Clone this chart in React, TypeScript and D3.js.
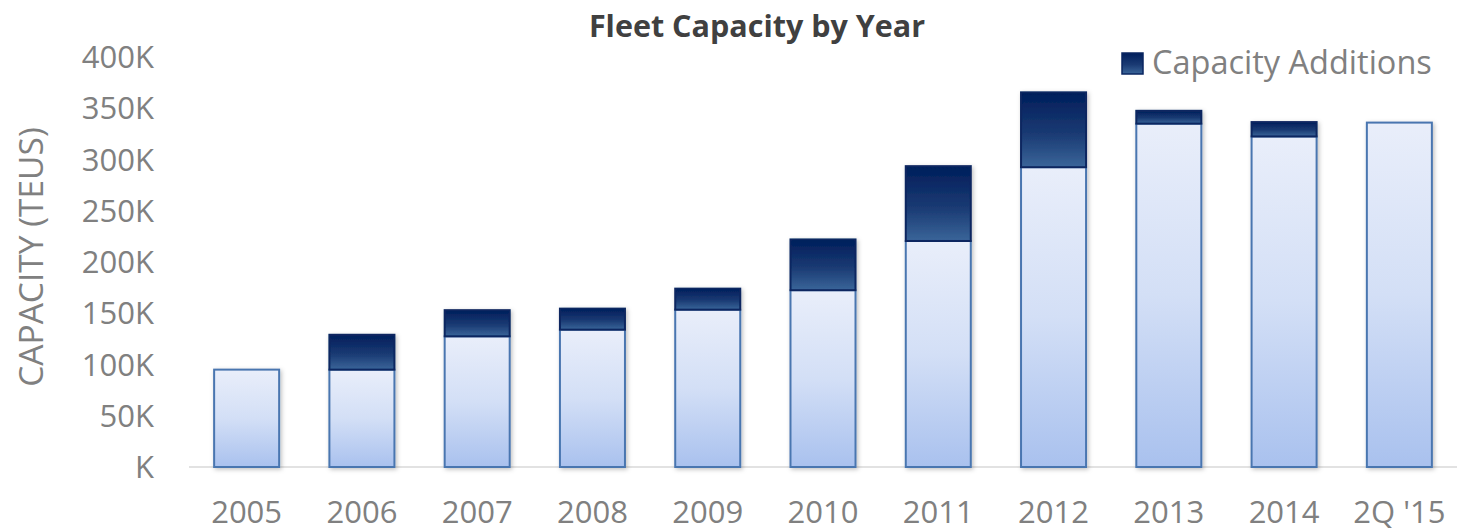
import React from 'react';
import * as d3 from 'd3';

// values in thousands of TEUs
const years = ['2005', '2006', '2007', '2008', '2009', '2010', '2011', '2012', '2013', '2014', "2Q '15"];
const baseCapacity = [95, 95, 127.5, 134, 153.5, 172.5, 220.5, 292.5, 335, 322.5, 336];
const capacityAdditions = [0, 34, 25.5, 20.5, 20.5, 49.5, 73, 73, 12.5, 14, 0];
const yTicks = [0, 50, 100, 150, 200, 250, 300, 350, 400];

const W = 1462;
const H = 532;
const font = '"Open Sans", sans-serif';

const App: React.FC = () => {
  const x = d3.scaleBand<string>()
    .domain(years)
    .range([189, 1457])
    .paddingInner(0.436)
    .paddingOuter(0.218);

  const y = d3.scaleLinear().domain([0, 400]).range([467, 57]);

  const rows = years.map((yr, i) => ({ yr, base: baseCapacity[i], add: capacityAdditions[i] }));

  return (
    <svg width={W} height={H} style={{ position: 'absolute', left: 0, top: 0 }} fontFamily={font}>
      <defs>
        <linearGradient id="lightFill" x1="0" y1="0" x2="0" y2="1">
          <stop offset="0%" stopColor="#e9eefa" />
          <stop offset="50%" stopColor="#d3dff6" />
          <stop offset="100%" stopColor="#a9c1ee" />
        </linearGradient>
        <linearGradient id="darkFill" x1="0" y1="0" x2="0" y2="1">
          <stop offset="0%" stopColor="#001e5b" />
          <stop offset="55%" stopColor="#1a3a73" />
          <stop offset="100%" stopColor="#3a6599" />
        </linearGradient>
        <filter id="shadow" x="-20%" y="-20%" width="140%" height="140%">
          <feDropShadow dx="1.5" dy="1.5" stdDeviation="2" floodColor="#000" floodOpacity="0.25" />
        </filter>
      </defs>

      <text x={757} y={37} textAnchor="middle" fontSize={30.5} fontWeight="bold" fill="#404040">
        Fleet Capacity by Year
      </text>

      <text
        transform={`translate(43,${257}) rotate(-90)`}
        textAnchor="middle"
        fontSize={33.5}
        fill="#808080"
      >
        CAPACITY (TEUS)
      </text>

      {yTicks.map((t) => (
        <text key={t} x={154} y={y(t)} dy="0.36em" textAnchor="end" fontSize={31} fill="#808080">
          {t === 0 ? 'K' : `${t}K`}
        </text>
      ))}

      <line x1={189} x2={1457} y1={y(0)} y2={y(0)} stroke="#d9d9d9" strokeWidth={1.5} />

      {rows.map((d) => (
        <g key={d.yr} filter="url(#shadow)">
          <rect
            x={x(d.yr)}
            y={y(d.base)}
            width={x.bandwidth()}
            height={y(0) - y(d.base)}
            fill="url(#lightFill)"
            stroke="#4a76b0"
            strokeWidth={2}
          />
          {d.add > 0 && (
            <rect
              x={x(d.yr)}
              y={y(d.base + d.add)}
              width={x.bandwidth()}
              height={y(d.base) - y(d.base + d.add)}
              fill="url(#darkFill)"
              stroke="#0a2660"
              strokeWidth={2}
            />
          )}
        </g>
      ))}

      {years.map((yr) => (
        <text key={yr} x={(x(yr) ?? 0) + x.bandwidth() / 2} y={523} textAnchor="middle" fontSize={31} fill="#808080">
          {yr}
        </text>
      ))}

      <g>
        <rect x={1122} y={53} width={21} height={21} fill="url(#darkFill)" stroke="#0a2660" strokeWidth={1.5} />
        <text x={1152} y={74} fontSize={32.5} fill="#808080">Capacity Additions</text>
      </g>
    </svg>
  );
};

export default App;
